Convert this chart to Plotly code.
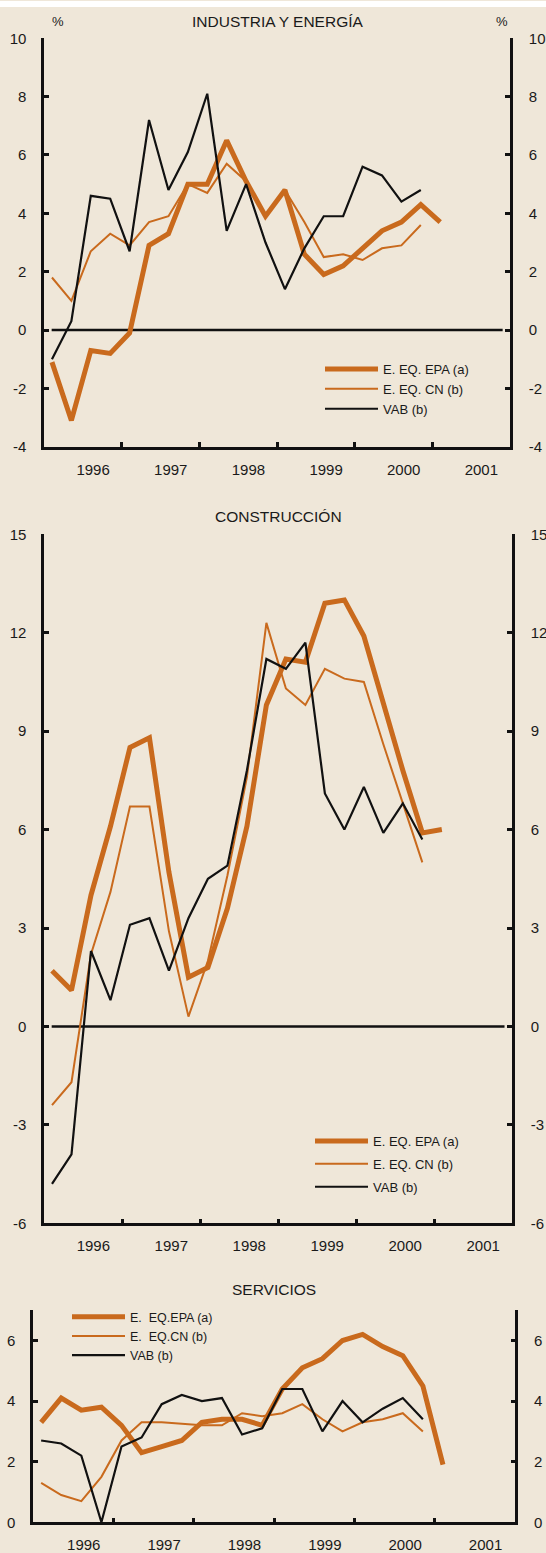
import plotly.graph_objects as go

# ---------------- data ----------------
quarters = ["1996-1", "1996-2", "1996-3", "1996-4", "1997-1", "1997-2", "1997-3", "1997-4",
            "1998-1", "1998-2", "1998-3", "1998-4", "1999-1", "1999-2", "1999-3", "1999-4",
            "2000-1", "2000-2", "2000-3", "2000-4", "2001-1"]
year_labels = ["1996", "1997", "1998", "1999", "2000", "2001"]

ind_epa = [-1.1, -3.1, -0.7, -0.8, -0.1, 2.9, 3.3, 5.0, 5.0, 6.5, 5.1, 3.9, 4.8, 2.6, 1.9, 2.2, 2.8, 3.4, 3.7, 4.3, 3.7]
ind_cn = [1.8, 1.0, 2.7, 3.3, 2.9, 3.7, 3.9, 5.0, 4.7, 5.7, 5.1, 3.9, 4.8, 3.7, 2.5, 2.6, 2.4, 2.8, 2.9, 3.6]
ind_vab = [-1.0, 0.3, 4.6, 4.5, 2.7, 7.2, 4.8, 6.1, 8.1, 3.4, 5.0, 3.0, 1.4, 2.8, 3.9, 3.9, 5.6, 5.3, 4.4, 4.8]

con_epa = [1.7, 1.1, 4.0, 6.1, 8.5, 8.8, 4.7, 1.5, 1.8, 3.6, 6.1, 9.8, 11.2, 11.1, 12.9, 13.0, 11.9, 9.8, 7.8, 5.9, 6.0]
con_cn = [-2.4, -1.7, 2.2, 4.1, 6.7, 6.7, 2.9, 0.3, 2.0, 4.6, 7.6, 12.3, 10.3, 9.8, 10.9, 10.6, 10.5, 8.6, 6.8, 5.0]
con_vab = [-4.8, -3.9, 2.3, 0.8, 3.1, 3.3, 1.7, 3.3, 4.5, 4.9, 7.8, 11.2, 10.9, 11.7, 7.1, 6.0, 7.3, 5.9, 6.8, 5.7]

ser_epa = [3.3, 4.1, 3.7, 3.8, 3.2, 2.3, 2.5, 2.7, 3.3, 3.4, 3.4, 3.2, 4.4, 5.1, 5.4, 6.0, 6.2, 5.8, 5.5, 4.5, 1.9]
ser_cn = [1.3, 0.9, 0.7, 1.5, 2.7, 3.3, 3.3, 3.25, 3.2, 3.2, 3.6, 3.5, 3.6, 3.9, 3.4, 3.0, 3.3, 3.4, 3.6, 3.0]
ser_vab = [2.7, 2.6, 2.2, 0.0, 2.5, 2.8, 3.9, 4.2, 4.0, 4.1, 2.9, 3.1, 4.4, 4.4, 3.0, 4.0, 3.3, 3.75, 4.1, 3.4]

# ---------------- style ----------------
W, H = 546, 1553
BG = "#EFE7D9"
ORANGE = "#C96A1D"
BLACK = "#111111"
FONT = "Liberation Sans, Arial, sans-serif"
TXT = "#1a1a1a"


def qx(q):
    y, n = q.split("-")
    return int(y) + (int(n) - 1) / 4 + 0.1


xs = [qx(q) for q in quarters]


def xdom(l, r):
    return [l / W, r / W]


def ydom(top, bottom):
    return [1 - bottom / H, 1 - top / H]


panels = [
    dict(name="INDUSTRIA Y ENERGÍA", xl=44.2, xr=510.1, yt=38.3, yb=446.7,
         yr=[-4, 10], yt_vals=[-4, -2, 0, 2, 4, 6, 8, 10],
         epa=ind_epa, cn=ind_cn, vab=ind_vab,
         labels=["E. EQ. EPA (a)", "E. EQ. CN (b)", "VAB (b)"], legend="legend",
         zero=True, title_y=21),
    dict(name="CONSTRUCCIÓN", xl=44.2, xr=512.0, yt=534.3, yb=1223.3,
         yr=[-6, 15], yt_vals=[-6, -3, 0, 3, 6, 9, 12, 15],
         epa=con_epa, cn=con_cn, vab=con_vab,
         labels=["E. EQ. EPA (a)", "E. EQ. CN (b)", "VAB (b)"], legend="legend2",
         zero=True, title_y=516),
    dict(name="SERVICIOS", xl=33.1, xr=515.3, yt=1310.2, yb=1522.3,
         yr=[0, 7], yt_vals=[0, 2, 4, 6],
         epa=ser_epa, cn=ser_cn, vab=ser_vab,
         labels=["E.  EQ.EPA (a)", "E.  EQ.CN (b)", "VAB (b)"], legend="legend3",
         zero=False, title_y=1289.3),
]

fig = go.Figure()
layout = dict(
    width=W, height=H, margin=dict(l=0, r=0, t=0, b=0),
    paper_bgcolor=BG, plot_bgcolor=BG, template="none",
    font=dict(family=FONT, color=TXT), showlegend=True,
)
shapes = [dict(type="rect", xref="paper", yref="paper", x0=0, x1=1,
               y0=1 - 7 / H, y1=1 - 1 / H, fillcolor="white", line=dict(width=0), layer="below")]
annotations = []

axis_common = dict(showgrid=False, zeroline=False, automargin=False, fixedrange=True)

for p_i, p in enumerate(panels):
    n = 2 * p_i + 1
    xa, xb = f"x{'' if n == 1 else n}", f"x{n + 1}"
    ya, yb = f"y{'' if n == 1 else n}", f"y{n + 1}"
    xa_key, xb_key = f"xaxis{'' if n == 1 else n}", f"xaxis{n + 1}"
    ya_key, yb_key = f"yaxis{'' if n == 1 else n}", f"yaxis{n + 1}"

    layout[xa_key] = dict(domain=xdom(p["xl"], p["xr"]), range=[1996, 2002], anchor=ya,
                          tickvals=[1997, 1998, 1999, 2000, 2001], ticks="inside", ticklen=5,
                          tickwidth=2.5, tickcolor=BLACK, showline=True, linewidth=2.5,
                          linecolor=BLACK, showticklabels=False, **axis_common)
    layout[xb_key] = dict(overlaying=xa, range=[1996, 2002], anchor=ya, side="bottom",
                          tickvals=[int(y) + 0.63 for y in year_labels], ticktext=year_labels,
                          ticks="", showline=False, ticklabelstandoff=12,
                          tickfont=dict(size=15, color=TXT, family=FONT), **axis_common)
    ycommon = dict(range=p["yr"], tickvals=p["yt_vals"],
                   ticktext=[str(v) for v in p["yt_vals"]], ticks="inside", ticklen=5,
                   tickwidth=2.5, tickcolor=BLACK, showline=True, linewidth=2.5,
                   linecolor=BLACK,
                   tickfont=dict(size=15, color=TXT, family=FONT), **axis_common)
    layout[ya_key] = dict(domain=ydom(p["yt"], p["yb"]), anchor=xa, side="left",
                          ticklabelstandoff=12, **ycommon)
    layout[yb_key] = dict(overlaying=ya, anchor=xa, side="right", ticklabelstandoff=13, **ycommon)

    if p["zero"]:
        shapes.append(dict(type="line", xref=f"{xa} domain", yref=ya, x0=0.016, x1=0.984,
                           y0=0, y1=0, line=dict(color=BLACK, width=2.5), layer="below"))

    annotations.append(dict(text=p["name"], xref="paper", yref="paper",
                            x=(p["xl"] + p["xr"]) / 2 / W, y=1 - p["title_y"] / H,
                            xanchor="center", yanchor="middle", showarrow=False,
                            font=dict(size=15.5, color=TXT, family=FONT)))

    specs = [(p["epa"], p["labels"][0], ORANGE, 5),
             (p["cn"], p["labels"][1], ORANGE, 2),
             (p["vab"], p["labels"][2], BLACK, 2.2)]
    for vals, lab, col, w in specs:
        fig.add_trace(go.Scatter(x=xs[:len(vals)], y=vals, mode="lines", name=lab,
                                 line=dict(color=col, width=w), xaxis=xa, yaxis=ya,
                                 legend=p["legend"], hoverinfo="skip",
                                 legendgroup=(lab + str(p_i)) if p_i == 1 else None))
    # invisible carriers so the overlaid label / right axes are drawn
    fig.add_trace(go.Scatter(x=xs[:len(p["vab"])], y=p["vab"], mode="lines", opacity=0,
                             xaxis=xb, yaxis=ya, showlegend=False, hoverinfo="skip"))
    fig.add_trace(go.Scatter(x=xs[:len(p["vab"])], y=p["vab"], mode="lines", opacity=0,
                             xaxis=xa, yaxis=yb, showlegend=False, hoverinfo="skip"))

# percent signs
for xp in (58, 502):
    annotations.append(dict(text="%", xref="paper", yref="paper", x=xp / W, y=1 - 21.7 / H,
                            xanchor="center", yanchor="middle", showarrow=False,
                            font=dict(size=13, color=TXT, family=FONT)))

leg_common = dict(bgcolor="rgba(0,0,0,0)", borderwidth=0, xanchor="left", yanchor="top",
                  itemwidth=53, itemclick=False, itemdoubleclick=False)
layout["legend"] = dict(x=320 / W, y=1 - 354 / H, font=dict(size=13, color=TXT, family=FONT),
                        **leg_common)
layout["legend2"] = dict(x=310 / W, y=1 - 1126 / H, tracegroupgap=3,
                         font=dict(size=13, color=TXT, family=FONT), **leg_common)
layout["legend3"] = dict(x=67 / W, y=1 - 1302 / H, font=dict(size=12.5, color=TXT, family=FONT),
                         **leg_common)

layout["shapes"] = shapes
layout["annotations"] = annotations
fig.update_layout(**layout)

fig.write_html(
    "out.html",
    config={"displayModeBar": False},
    post_script="document.body.style.margin='0';document.body.style.background='" + BG + "';",
)
